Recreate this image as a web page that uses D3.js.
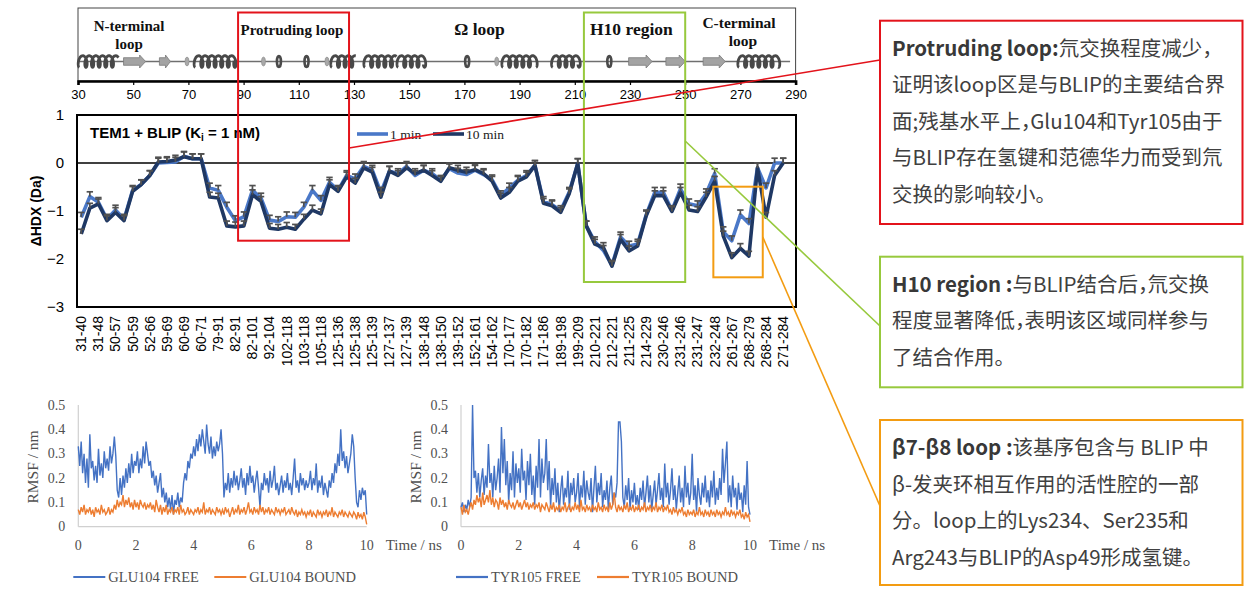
<!DOCTYPE html>
<html><head><meta charset="utf-8">
<script src="https://cdn.jsdelivr.net/npm/d3@7"></script>
<style>body{margin:0;background:#fff;}svg{display:block}</style>
</head><body>
<svg id="c" width="1245" height="591"></svg>
<script>
// ---------------- DATA ----------------
const peptideLabels = ["31-40","31-48","50-57","50-59","52-66","59-69","60-69","60-71","79-91","82-91","82-101","92-104","102-118","103-118","105-118","125-136","125-138","125-139","127-137","127-139","138-148","138-150","139-152","152-161","154-162","170-177","170-182","171-186","189-198","199-209","210-221","212-221","211-225","214-229","230-246","231-246","231-247","232-248","261-267","268-279","268-284","271-284"];
const hdx1min = [-1.13,-0.70,-0.82,-1.17,-0.98,-1.17,-0.57,-0.45,-0.26,0.00,0.01,0.02,0.14,0.09,0.09,-0.52,-0.57,-0.92,-1.20,-1.12,-0.57,-0.73,-1.19,-1.22,-1.12,-1.13,-0.92,-0.57,-0.78,-0.40,-0.57,-0.26,-0.33,-0.07,-0.15,-0.61,-0.17,-0.22,-0.07,-0.26,-0.15,-0.22,-0.36,-0.12,-0.21,-0.24,-0.15,-0.24,-0.35,-0.68,-0.52,-0.36,-0.26,-0.05,-0.80,-0.87,-0.99,-0.61,-0.01,-1.31,-1.64,-1.82,-2.13,-1.54,-1.73,-1.69,-1.08,-0.61,-0.61,-0.99,-0.54,-0.85,-0.89,-0.64,-0.22,-1.43,-1.62,-1.08,-1.26,-0.10,-0.52,0.00,0.00];
const hdx10min = [-1.48,-0.94,-0.85,-1.20,-1.03,-1.20,-0.59,-0.45,-0.26,0.02,0.03,0.06,0.13,0.09,0.09,-0.71,-0.73,-1.31,-1.33,-1.31,-0.66,-0.80,-1.36,-1.38,-1.34,-1.38,-1.17,-0.98,-1.06,-0.45,-0.59,-0.29,-0.42,-0.10,-0.19,-0.71,-0.17,-0.26,-0.10,-0.22,-0.15,-0.26,-0.38,-0.10,-0.15,-0.19,-0.14,-0.22,-0.38,-0.73,-0.61,-0.38,-0.29,-0.05,-0.84,-0.89,-1.03,-0.64,-0.01,-1.31,-1.69,-1.76,-2.15,-1.59,-1.83,-1.73,-1.10,-0.68,-0.68,-1.01,-0.61,-0.98,-1.01,-0.71,-0.38,-1.52,-1.97,-1.78,-1.94,-0.10,-1.13,-0.26,0.00];
const hdxError = 0.1;
const hdxTicks = [1,0,-1,-2,-3];

const residueTicks = [30,50,70,90,110,130,150,170,190,210,230,250,270,290];
const helices = [[30.5,44],[72.5,87.5],[122,130.5],[134,145],[146,156],[184,196],[202,212],[269.5,284]];
const strands = [[46.5,54.5],[59.5,63.5],[229.5,238],[243,250],[256.5,264.5]];
const turnsDark = [102.8,112.8,171,222.5];
const turnsLight = [69.5,97.2,120.2,181.7];
const regionNames = [["N-terminal","loop"],["Protruding loop"],["Ω loop"],["H10 region"],["C-terminal","loop"]];
const regionCenters = [48.5,107.5,175.5,230.5,269.5];
const highlightRanges = [[88,128.2],[213.3,250],[260.2,278.1]];

const rmsfStep = 0.05;
const glu104Free = [0.33,0.25,0.35,0.22,0.30,0.18,0.28,0.16,0.38,0.24,
0.27,0.19,0.25,0.18,0.32,0.21,0.26,0.20,0.31,0.24,
0.28,0.23,0.33,0.26,0.30,0.37,0.29,0.15,0.12,0.20,
0.13,0.21,0.16,0.24,0.18,0.26,0.20,0.30,0.22,0.27,
0.25,0.31,0.22,0.28,0.24,0.33,0.26,0.35,0.30,0.25,
0.27,0.20,0.23,0.17,0.21,0.14,0.18,0.22,0.12,0.16,
0.10,0.14,0.08,0.12,0.07,0.13,0.05,0.11,0.09,0.14,
0.08,0.12,0.10,0.18,0.22,0.19,0.27,0.24,0.30,0.28,
0.33,0.29,0.36,0.31,0.38,0.33,0.40,0.35,0.30,0.42,
0.34,0.30,0.37,0.28,0.33,0.29,0.35,0.31,0.34,0.40,
0.30,0.12,0.18,0.15,0.22,0.14,0.20,0.16,0.23,0.17,
0.21,0.15,0.19,0.24,0.16,0.20,0.13,0.22,0.17,0.25,
0.18,0.21,0.14,0.19,0.23,0.16,0.08,0.18,0.15,0.22,
0.17,0.20,0.14,0.23,0.16,0.19,0.25,0.15,0.18,0.13,
0.17,0.21,0.14,0.19,0.16,0.22,0.15,0.18,0.13,0.20,
0.28,0.16,0.19,0.14,0.22,0.17,0.20,0.15,0.19,0.16,
0.18,0.23,0.15,0.20,0.17,0.26,0.14,0.19,0.16,0.21,
0.13,0.18,0.15,0.12,0.19,0.16,0.22,0.18,0.26,0.22,
0.30,0.25,0.40,0.27,0.31,0.24,0.29,0.22,0.26,0.30,
0.38,0.33,0.20,0.10,0.08,0.15,0.11,0.16,0.13,0.15,0.05];
const glu104Bound = [0.07,0.05,0.08,0.06,0.09,0.05,0.07,0.06,0.08,0.05,
0.07,0.04,0.08,0.06,0.07,0.05,0.09,0.06,0.07,0.05,
0.06,0.08,0.05,0.07,0.06,0.09,0.07,0.11,0.08,0.10,
0.09,0.13,0.08,0.11,0.09,0.12,0.08,0.10,0.07,0.11,
0.08,0.10,0.07,0.11,0.09,0.08,0.10,0.07,0.09,0.08,
0.10,0.07,0.09,0.06,0.11,0.08,0.06,0.09,0.05,0.08,
0.06,0.09,0.05,0.07,0.06,0.08,0.05,0.07,0.06,0.08,
0.05,0.09,0.06,0.07,0.05,0.06,0.08,0.05,0.07,0.06,
0.05,0.07,0.06,0.08,0.05,0.07,0.06,0.10,0.05,0.07,
0.06,0.08,0.05,0.07,0.06,0.05,0.08,0.06,0.07,0.05,
0.07,0.05,0.08,0.06,0.07,0.04,0.06,0.08,0.05,0.07,
0.06,0.09,0.05,0.07,0.06,0.08,0.05,0.07,0.10,0.06,
0.07,0.05,0.08,0.06,0.07,0.05,0.09,0.06,0.08,0.05,
0.07,0.06,0.08,0.05,0.07,0.06,0.05,0.08,0.06,0.07,
0.05,0.07,0.06,0.08,0.05,0.06,0.07,0.05,0.08,0.06,
0.05,0.07,0.04,0.06,0.05,0.07,0.05,0.06,0.04,0.06,
0.05,0.07,0.04,0.06,0.05,0.04,0.07,0.05,0.06,0.04,
0.06,0.05,0.07,0.04,0.06,0.05,0.08,0.04,0.06,0.05,
0.04,0.06,0.05,0.07,0.04,0.06,0.05,0.04,0.06,0.05,
0.04,0.06,0.05,0.03,0.06,0.04,0.05,0.03,0.06,0.04,0.01];
const tyr105Free = [0.08,0.10,0.06,0.09,0.07,0.11,0.08,0.12,0.50,0.20,
0.23,0.14,0.22,0.12,0.19,0.24,0.13,0.21,0.16,0.34,
0.18,0.22,0.12,0.25,0.15,0.20,0.28,0.14,0.41,0.22,
0.36,0.17,0.27,0.10,0.22,0.15,0.31,0.12,0.26,0.18,
0.24,0.14,0.32,0.19,0.23,0.11,0.27,0.17,0.30,0.13,
0.21,0.09,0.25,0.16,0.36,0.12,0.28,0.18,0.22,0.36,
0.15,0.27,0.08,0.20,0.13,0.24,0.10,0.18,0.06,0.15,
0.21,0.09,0.16,0.12,0.23,0.07,0.18,0.13,0.20,0.10,
0.14,0.22,0.08,0.17,0.12,0.23,0.09,0.19,0.14,0.11,
0.20,0.06,0.16,0.25,0.10,0.18,0.13,0.22,0.08,0.15,
0.11,0.19,0.07,0.16,0.21,0.09,0.14,0.12,0.18,0.43,
0.43,0.35,0.12,0.08,0.17,0.11,0.20,0.07,0.15,0.10,
0.18,0.09,0.13,0.07,0.16,0.11,0.19,0.08,0.14,0.21,
0.10,0.17,0.07,0.13,0.19,0.09,0.15,0.22,0.11,0.16,
0.08,0.26,0.12,0.18,0.09,0.15,0.24,0.11,0.17,0.07,
0.14,0.21,0.10,0.16,0.08,0.25,0.12,0.18,0.09,0.14,
0.30,0.11,0.17,0.06,0.20,0.13,0.09,0.18,0.12,0.21,
0.10,0.15,0.08,0.19,0.12,0.23,0.09,0.16,0.11,0.20,
0.13,0.32,0.18,0.26,0.35,0.10,0.17,0.08,0.21,0.12,
0.16,0.07,0.18,0.11,0.14,0.06,0.17,0.09,0.27,0.08,0.05];
const tyr105Bound = [0.08,0.05,0.09,0.06,0.07,0.05,0.08,0.10,0.07,0.11,
0.09,0.13,0.10,0.12,0.08,0.14,0.09,0.11,0.13,0.10,
0.15,0.09,0.12,0.08,0.11,0.10,0.07,0.12,0.09,0.11,
0.08,0.10,0.07,0.11,0.09,0.08,0.10,0.07,0.09,0.11,
0.08,0.10,0.07,0.09,0.11,0.08,0.10,0.07,0.09,0.08,
0.10,0.07,0.09,0.08,0.10,0.06,0.09,0.08,0.07,0.10,
0.08,0.06,0.09,0.07,0.10,0.06,0.08,0.07,0.09,0.06,
0.08,0.07,0.10,0.06,0.08,0.09,0.06,0.08,0.07,0.10,
0.07,0.09,0.06,0.11,0.07,0.08,0.06,0.09,0.07,0.08,
0.06,0.09,0.07,0.08,0.06,0.10,0.07,0.08,0.06,0.09,
0.07,0.08,0.06,0.10,0.07,0.09,0.14,0.08,0.06,0.09,
0.07,0.08,0.06,0.09,0.07,0.10,0.06,0.08,0.07,0.09,
0.06,0.08,0.07,0.09,0.06,0.08,0.07,0.10,0.06,0.08,
0.07,0.09,0.06,0.08,0.07,0.10,0.06,0.08,0.07,0.09,
0.06,0.08,0.07,0.09,0.06,0.07,0.05,0.08,0.06,0.07,
0.05,0.07,0.06,0.08,0.05,0.06,0.04,0.07,0.05,0.06,
0.05,0.07,0.04,0.06,0.05,0.08,0.05,0.06,0.04,0.07,
0.05,0.06,0.04,0.07,0.05,0.06,0.04,0.07,0.05,0.06,
0.04,0.06,0.05,0.08,0.05,0.06,0.04,0.07,0.05,0.06,
0.04,0.06,0.05,0.07,0.04,0.05,0.03,0.06,0.04,0.05,0.02];
const rmsfTicks = [0,0.1,0.2,0.3,0.4,0.5];
const timeTicks = [0,2,4,6,8,10];

const noteProtruding = [[["Protruding loop:",1],["氘交换程度减少，",0]],[["证明该loop区是与BLIP的主要结合界",0]],[["面;残基水平上，Glu104和Tyr105由于",0]],[["与BLIP存在氢键和范德华力而受到氘",0]],[["交换的影响较小。",0]]];
const noteH10 = [[["H10 region :",1],["与BLIP结合后，氘交换",0]],[["程度显著降低，表明该区域同样参与",0]],[["了结合作用。",0]]];
const noteLoop = [[["β7-β8 loop :",1],["该基序包含与 BLIP 中",0]],[["β-发夹环相互作用的活性腔的一部",0]],[["分。loop上的Lys234、Ser235和",0]],[["Arg243与BLIP的Asp49形成氢键。",0]]];

// ---------------- DRAW ----------------
const svg = d3.select("#c");
const SANS = "'Liberation Sans', Arial, sans-serif";
const SERIF = "'Liberation Serif', 'Times New Roman', serif";
const CJK = "'Noto Sans CJK SC', 'Noto Sans', sans-serif";
const C1 = "#4a78c8", C10 = "#1f3864";
const RED = "#e3131b", GREEN = "#97c93d", ORANGE = "#f39c12";

// ===== Top structure panel =====
const xr = d3.scaleLinear().domain([30,290]).range([78,795.6]);
const topG = svg.append("g");
topG.append("rect").attr("x",78).attr("y",8).attr("width",717.6).attr("height",73)
  .attr("fill","none").attr("stroke","#444").attr("stroke-width",1);
const trackY = 61.5;
topG.append("line").attr("x1",xr(30)).attr("x2",xr(288)).attr("y1",trackY).attr("y2",trackY)
  .attr("stroke","#6f6f6f").attr("stroke-width",1.6);
function helixPath(xa, xb, yc){
  const k = 1.05, rx = 2.6, ry = 5.8;
  const T = (xb - xa) / k;
  const pts = [];
  for (let t = 0; t <= T; t += 0.2) pts.push([xa + k*t - rx*Math.sin(t), yc + ry*Math.cos(t)]);
  return d3.line()(pts);
}
topG.selectAll(".hx").data(helices).join("path")
  .attr("d", d => helixPath(xr(d[0]), xr(d[1]), trackY))
  .attr("fill","none").attr("stroke","#484848").attr("stroke-width",2.8);
topG.selectAll(".st").data(strands).join("path")
  .attr("d", d => {
    const a = xr(d[0]), b = xr(d[1]), h = Math.min(6, (b-a)*0.45);
    return `M${a},${trackY-3.8}L${b-h},${trackY-3.8}L${b-h},${trackY-6.5}L${b},${trackY}L${b-h},${trackY+6.5}L${b-h},${trackY+3.8}L${a},${trackY+3.8}Z`;
  })
  .attr("fill","#a3a3a3").attr("stroke","#7a7a7a").attr("stroke-width",0.8);
topG.selectAll(".td").data(turnsDark).join("ellipse")
  .attr("cx", d => xr(d)).attr("cy", trackY).attr("rx",2).attr("ry",5.5)
  .attr("fill","none").attr("stroke","#4a4a4a").attr("stroke-width",2.6);
topG.selectAll(".tl").data(turnsLight).join("ellipse")
  .attr("cx", d => xr(d)).attr("cy", trackY).attr("rx",2).attr("ry",4.5)
  .attr("fill","#a9a9a9").attr("stroke","#8a8a8a").attr("stroke-width",0.6);
const axTop = topG.append("g").attr("transform","translate(0,81)")
  .call(d3.axisBottom(xr).tickValues(residueTicks).tickSize(4).tickPadding(5).tickFormat(d3.format("d")));
axTop.select(".domain").attr("stroke","#000").attr("stroke-width",2.6);
axTop.selectAll(".tick line").attr("stroke","#000").attr("stroke-width",1.2);
axTop.selectAll("text").attr("font-family",SANS).attr("font-size",13).attr("fill","#000");
const regionSizes = [15,15,17.5,17.5,15.5];
regionNames.forEach((lines, i) => {
  const t = topG.append("text").attr("font-family",SERIF).attr("font-weight","bold")
    .attr("font-size",regionSizes[i]).attr("text-anchor","middle").attr("fill","#111");
  const by = lines.length === 2 ? 31 : 35;
  lines.forEach((s, j) => t.append("tspan").attr("x", xr(regionCenters[i]) + (i===4&&j===1?4:0)).attr("y", by + j*18 - (i===4?3:0)).text(s));
});

// ===== Main HDX chart =====
const nSlots = peptideLabels.length * 2;
const xm = d3.scaleBand().domain(d3.range(nSlots)).range([77,796]);
const xc = i => xm(i) + xm.bandwidth()/2;
const ym = d3.scaleLinear().domain([-3,1]).range([307,115]);
const mg = svg.append("g");
mg.append("line").attr("x1",77).attr("x2",796).attr("y1",ym(0)).attr("y2",ym(0)).attr("stroke","#000").attr("stroke-width",1.3);
const axB = mg.append("g").attr("transform","translate(0,307)")
  .call(d3.axisBottom(xm).tickSize(0).tickFormat(i => i % 2 === 0 ? (peptideLabels[i/2] || "") : ""));
axB.select(".domain").remove();
axB.selectAll("text").attr("transform","rotate(-90)").attr("x",-9).attr("y",0).attr("dy","0.35em")
  .style("text-anchor","end").attr("font-family",SANS).attr("font-size",14).attr("fill","#000");
const axL = mg.append("g").attr("transform","translate(77,0)")
  .call(d3.axisLeft(ym).tickValues(hdxTicks).tickSize(0).tickPadding(13).tickFormat(d3.format("d")));
axL.select(".domain").remove();
axL.selectAll("text").attr("font-family",SANS).attr("font-size",15).attr("fill","#000");
mg.append("text").attr("transform","translate(41,211) rotate(-90)").attr("text-anchor","middle")
  .attr("font-family",SANS).attr("font-weight","bold").attr("font-size",14).text("ΔHDX (Da)");
const lineGen = d3.line().x((d,i) => xc(i)).y(d => ym(d));
mg.append("path").datum(hdx1min).attr("d",lineGen).attr("fill","none").attr("stroke",C1).attr("stroke-width",3.6).attr("stroke-linejoin","round");
mg.append("path").datum(hdx10min).attr("d",lineGen).attr("fill","none").attr("stroke",C10).attr("stroke-width",3.6).attr("stroke-linejoin","round");
[hdx1min, hdx10min].forEach(series => {
  const g = mg.append("g").attr("stroke","#505050").attr("stroke-width",1.7);
  g.selectAll("line.v").data(series).join("line").attr("x1",(d,i)=>xc(i)).attr("x2",(d,i)=>xc(i))
    .attr("y1", d => ym(d)).attr("y2", d => ym(d + hdxError));
  g.selectAll("line.c").data(series).join("line").attr("x1",(d,i)=>xc(i)-3.2).attr("x2",(d,i)=>xc(i)+3.2)
    .attr("y1", d => ym(d + hdxError)).attr("y2", d => ym(d + hdxError));
});
mg.append("rect").attr("x",77).attr("y",115).attr("width",719).attr("height",192)
  .attr("fill","none").attr("stroke","#000").attr("stroke-width",2);
const title = mg.append("text").attr("x",90).attr("y",138).attr("font-family",SANS).attr("font-weight","bold").attr("font-size",15);
title.append("tspan").text("TEM1 + BLIP (K");
title.append("tspan").attr("font-size",10).attr("dy",3).text("i");
title.append("tspan").attr("dy",-3).text(" = 1 nM)");
// legend
[[C1,"1 min",357],[C10,"10 min",433]].forEach(([c,t,x]) => {
  mg.append("line").attr("x1",x).attr("x2",x+31).attr("y1",134).attr("y2",134).attr("stroke",c).attr("stroke-width",3.6);
  mg.append("text").attr("x",x+33).attr("y",138.5).attr("font-family",SERIF).attr("font-size",13.5).attr("fill","#222").text(t);
});

// ===== Highlight boxes & connectors =====
const hb = svg.append("g").attr("fill","none").attr("stroke-width",2);
const boxY = [[12.5,240.7],[12.5,282],[186.7,277.3]];
const boxC = [RED, GREEN, ORANGE];
highlightRanges.forEach((r,i) => {
  hb.append("rect").attr("x",xr(r[0])).attr("y",boxY[i][0]).attr("width",xr(r[1])-xr(r[0])).attr("height",boxY[i][1]-boxY[i][0]).attr("stroke",boxC[i]);
});
hb.append("line").attr("x1",xr(highlightRanges[0][1])).attr("y1",148).attr("x2",880).attr("y2",60).attr("stroke",RED).attr("stroke-width",1.6);
hb.append("line").attr("x1",xr(highlightRanges[1][1])).attr("y1",141).attr("x2",880).attr("y2",326).attr("stroke",GREEN).attr("stroke-width",1.6);
hb.append("line").attr("x1",xr(highlightRanges[2][1])).attr("y1",237).attr("x2",880).attr("y2",506).attr("stroke",ORANGE).attr("stroke-width",1.6);

// ===== Annotation boxes =====
function note(lines, top, bottom, color){
  const g = svg.append("g");
  g.append("rect").attr("x",880).attr("y",top).attr("width",362.5).attr("height",bottom-top)
    .attr("fill","#fff").attr("stroke",color).attr("stroke-width",2);
  lines.forEach((parts, j) => {
    const t = g.append("text").attr("x",892).attr("y", top + 35 + j*36.5)
      .attr("font-family",CJK).attr("font-size",20.5).attr("fill","#404040");
    parts.forEach(([s,b]) => {
      // fullwidth commas are set tight, as in the reference typesetting
      s.split(/(，)/).filter(p => p.length).forEach(p => {
        const ts = t.append("tspan").attr("font-weight", b ? "bold" : "normal").attr("fill", b ? "#383838" : "#404040").text(p);
        if (p === "，") ts.attr("letter-spacing", "-11px");
      });
    });
  });
}
note(noteProtruding, 20.7, 224, RED);
note(noteH10, 256.7, 387.3, GREEN);
note(noteLoop, 420, 585, ORANGE);

// ===== RMSF panels =====
function rmsfPanel(x0, x1, free, bound, names){
  const g = svg.append("g");
  const xs = d3.scaleLinear().domain([0,10]).range([x0,x1]);
  const ys = d3.scaleLinear().domain([0,0.5]).range([526.7,405]);
  g.append("line").attr("x1",x0).attr("x2",x0).attr("y1",405).attr("y2",526.7).attr("stroke","#d0d0d0").attr("stroke-width",1.2);
  g.append("line").attr("x1",x0).attr("x2",x1).attr("y1",526.7).attr("y2",526.7).attr("stroke","#d0d0d0").attr("stroke-width",1.2);
  const lg = d3.line().x((d,i) => xs(i*rmsfStep)).y(d => ys(d));
  g.append("path").datum(free).attr("d",lg).attr("fill","none").attr("stroke","#4472c4").attr("stroke-width",1.4);
  g.append("path").datum(bound).attr("d",lg).attr("fill","none").attr("stroke","#ed7d31").attr("stroke-width",1.4);
  g.selectAll(".yt").data(rmsfTicks).join("text").attr("x",x0-13).attr("y",d=>ys(d)+4.5)
    .attr("text-anchor","end").attr("font-family",SERIF).attr("font-size",14).attr("fill","#505050")
    .text(d => d === 0 ? "0" : d3.format(".1f")(d));
  g.selectAll(".xt").data(timeTicks).join("text").attr("x",d=>xs(d)).attr("y",550)
    .attr("text-anchor","middle").attr("font-family",SERIF).attr("font-size",14).attr("fill","#505050").text(d=>d);
  g.append("text").attr("x",x1+19).attr("y",550).attr("font-family",SERIF).attr("font-size",15).attr("fill","#505050").text("Time / ns");
  g.append("text").attr("transform",`translate(${x0-40},467) rotate(-90)`).attr("text-anchor","middle")
    .attr("font-family",SERIF).attr("font-size",15.5).attr("fill","#505050").text("RMSF / nm");
  const lx = x0 - 5;
  [["#4472c4",names[0],lx],["#ed7d31",names[1],lx+141]].forEach(([c,t,x]) => {
    g.append("line").attr("x1",x).attr("x2",x+32).attr("y1",577).attr("y2",577).attr("stroke",c).attr("stroke-width",2.2);
    g.append("text").attr("x",x+35).attr("y",582).attr("font-family",SERIF).attr("font-size",14.5).attr("fill","#505050").text(t);
  });
}
rmsfPanel(78.3, 366.7, glu104Free, glu104Bound, ["GLU104 FREE","GLU104 BOUND"]);
rmsfPanel(461, 750, tyr105Free, tyr105Bound, ["TYR105 FREE","TYR105 BOUND"]);
</script>
</body></html>
